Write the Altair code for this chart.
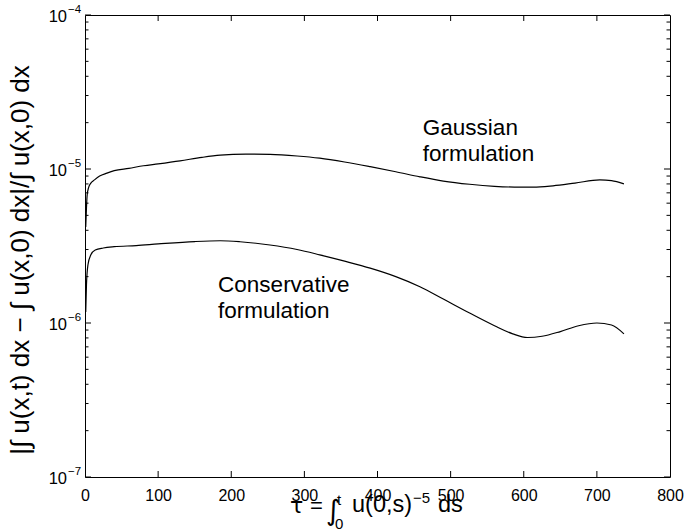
import altair as alt
import pandas as pd

# ---- data ----
g_x = [1, 2, 3, 5, 8, 13, 20, 30, 40, 60, 80, 100, 130, 160, 185, 220, 253, 290,
       321, 355, 390, 425, 458, 490, 526, 560, 595, 613, 640, 670, 704, 720, 737]
g_v = [4.2e-6, 5.6e-6, 6.8e-6, 7.6e-6, 8.1e-6, 8.5e-6, 9.0e-6, 9.4e-6, 9.75e-6,
       1.01e-5, 1.05e-5, 1.08e-5, 1.13e-5, 1.19e-5, 1.23e-5, 1.25e-5, 1.245e-5,
       1.215e-5, 1.175e-5, 1.11e-5, 1.035e-5, 9.6e-6, 8.9e-6, 8.35e-6, 7.96e-6,
       7.72e-6, 7.62e-6, 7.62e-6, 7.78e-6, 8.1e-6, 8.5e-6, 8.4e-6, 8.0e-6]

c_x = [1, 2, 4, 8, 14, 25, 40, 70, 100, 150, 185, 212, 253, 290, 321, 355, 390,
       425, 458, 490, 526, 560, 585, 605, 625, 650, 675, 700, 720, 737]
c_v = [1.18e-6, 1.77e-6, 2.38e-6, 2.77e-6, 2.98e-6, 3.07e-6, 3.13e-6, 3.18e-6,
       3.26e-6, 3.38e-6, 3.42e-6, 3.37e-6, 3.21e-6, 3.0e-6, 2.77e-6, 2.52e-6,
       2.27e-6, 2.0e-6, 1.72e-6, 1.43e-6, 1.16e-6, 9.6e-7, 8.5e-7, 8.05e-7,
       8.2e-7, 8.8e-7, 9.6e-7, 1.0e-6, 9.7e-7, 8.5e-7]

x_ticks = [0, 100, 200, 300, 400, 500, 600, 700, 800]
y_major = [1e-7, 1e-6, 1e-5, 1e-4]
y_exp = ["−7", "−6", "−5", "−4"]
y_minor = [m * d for d in [1e-7, 1e-6, 1e-5] for m in range(2, 10)]

label_text = ["Gaussian", "formulation", "Conservative", "formulation"]
label_x = [462, 462, 182, 182]
label_v = [1.675e-5, 1.127e-5, 1.589e-6, 1.076e-6]

y_title = "|∫ u(x,t) dx − ∫ u(x,0) dx|/∫ u(x,0) dx"

W, H = 585, 462
FONT = "Liberation Sans"

xs = alt.Scale(domain=[0, 800], nice=False, zero=False)
ys = alt.Scale(type="log", domain=[1e-7, 1e-4], nice=False)

curves = pd.DataFrame(
    {"x": g_x + c_x, "v": g_v + c_v,
     "series": ["Gaussian"] * len(g_x) + ["Conservative"] * len(c_x)}
)

lines = alt.Chart(curves).mark_line(color="black", strokeWidth=1.2, interpolate="monotone").encode(
    x=alt.X("x:Q", scale=xs,
            axis=alt.Axis(values=x_ticks, ticks=False, domain=False, grid=False, title=None,
                          labelFontSize=16, labelFont=FONT, labelColor="black",
                          labelPadding=10, labelFlush=False)),
    y=alt.Y("v:Q", scale=ys, axis=None),
    detail="series:N",
)

xt = pd.DataFrame({"x": x_ticks[1:-1]})
xt_bottom = alt.Chart(xt).mark_rule(color="black", strokeWidth=1).encode(
    x=alt.X("x:Q", scale=xs), y=alt.value(H), y2=alt.value(H - 6))
xt_top = alt.Chart(xt).mark_rule(color="black", strokeWidth=1).encode(
    x=alt.X("x:Q", scale=xs), y=alt.value(0), y2=alt.value(6))

ymaj = pd.DataFrame({"v": y_major, "e": y_exp})
ymin = pd.DataFrame({"v": y_minor})
ytl = alt.Chart(ymaj).mark_rule(color="black").encode(
    y=alt.Y("v:Q", scale=ys), x=alt.value(0), x2=alt.value(6))
ytr = alt.Chart(ymaj).mark_rule(color="black").encode(
    y=alt.Y("v:Q", scale=ys), x=alt.value(W), x2=alt.value(W - 6))
ymtl = alt.Chart(ymin).mark_rule(color="black").encode(
    y=alt.Y("v:Q", scale=ys), x=alt.value(0), x2=alt.value(3.5))
ymtr = alt.Chart(ymin).mark_rule(color="black").encode(
    y=alt.Y("v:Q", scale=ys), x=alt.value(W), x2=alt.value(W - 3.5))

ylab10 = alt.Chart(ymaj).mark_text(align="right", baseline="alphabetic", fontSize=16.5,
                                   font=FONT, color="black", dy=7, text="10").encode(
    y=alt.Y("v:Q", scale=ys), x=alt.value(-18))
ylabexp = alt.Chart(ymaj).mark_text(align="left", baseline="alphabetic", fontSize=11.5,
                                    font=FONT, color="black", dy=-2).encode(
    y=alt.Y("v:Q", scale=ys), x=alt.value(-17), text="e:N")

labels = pd.DataFrame({"x": label_x, "v": label_v, "t": label_text})
ann = alt.Chart(labels).mark_text(align="left", baseline="alphabetic", fontSize=22.5,
                                  font=FONT, color="black").encode(
    x=alt.X("x:Q", scale=xs), y=alt.Y("v:Q", scale=ys), text="t:N")


def piece(txt, px, py, size, angle=0, align="left", baseline="alphabetic", font=FONT):
    kw = dict(align=align, baseline=baseline, fontSize=size, font=font, color="black", text=txt)
    if angle:
        kw["angle"] = angle
    return alt.Chart(alt.Data(values=[{}])).mark_text(**kw).encode(
        x=alt.value(px), y=alt.value(py))


# x-axis title pieces, positioned relative to the plot origin (85, 15)
xtitle = [
    piece("τ", 205, 498, 22, font="DejaVu Sans"),
    piece("=", 225, 498, 22),
    piece("∫", 241, 505, 28, font="DejaVu Sans"),
    piece("t", 252, 490, 15),
    piece("0", 250, 514, 15),
    piece("u(0,s)", 267, 497, 23.5),
    piece("−5", 328, 488, 15),
    piece("ds", 353, 497, 23.5),
]
ytitle = piece(y_title, -64, 245, 26, angle=270, align="center", baseline="middle")

chart = alt.layer(
    lines, xt_bottom, xt_top, ytl, ytr, ymtl, ymtr, ylab10, ylabexp, ann, ytitle, *xtitle
).properties(
    width=W, height=H,
    autosize=alt.AutoSizeParams(type="none"),
    padding={"left": 85, "top": 15, "right": 14, "bottom": 54},
    background="white",
).configure_view(stroke="black", strokeWidth=1)

chart.save("out.html", embed_options={"renderer": "svg", "actions": False})
